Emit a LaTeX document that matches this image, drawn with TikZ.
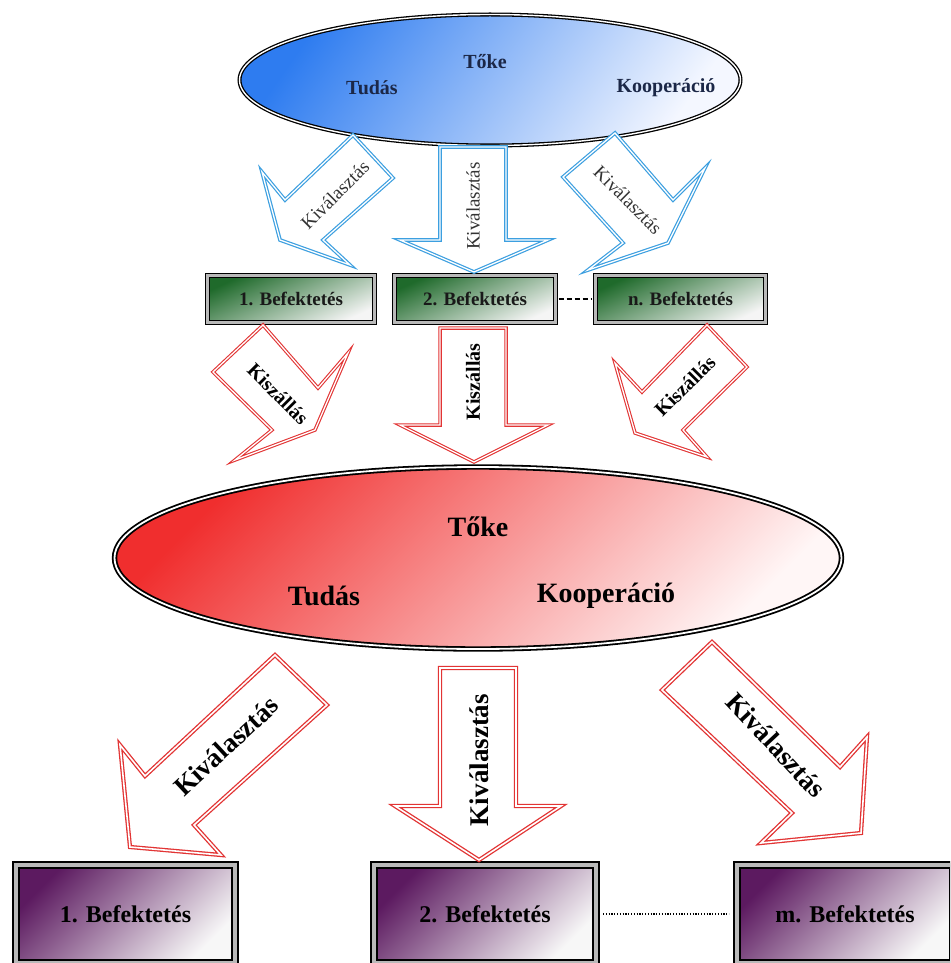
\documentclass[tikz,border=0pt]{standalone}
\usepackage{fontspec}
\setmainfont{Liberation Serif}
\usetikzlibrary{shapes.geometric}
\definecolor{bluearr}{HTML}{3C9FE0}
\definecolor{redarr}{HTML}{E23434}
\definecolor{blueA}{HTML}{2E7CF0}
\definecolor{blueB}{HTML}{F4F7FF}
\definecolor{redA}{HTML}{F02E2E}
\definecolor{redB}{HTML}{FFF6F6}
\definecolor{greenA}{HTML}{1F6A2B}
\definecolor{purpA}{HTML}{5C1A60}
\definecolor{navy}{HTML}{1B2747}
\begin{document}
\begin{tikzpicture}[x=1pt,y=-1pt,
 bluearrow/.style={draw=bluearr,double=white,line width=1.2pt,double distance=1.3pt,fill=white,line join=miter},
 redarrow/.style={draw=redarr,double=white,line width=1.1pt,double distance=1.3pt,fill=white,line join=miter},
 bigredarrow/.style={redarrow,line width=1.3pt,double distance=1.6pt},
 ell/.style={ellipse,inner sep=0pt,draw=black,double=white,line width=1.3pt,double distance=1.4pt},
 gbox/.style={rectangle,inner sep=0pt,draw=black,double=gray!55,line width=1.4pt,double distance=2.6pt,top color=greenA,bottom color=white!92!gray,shading angle=25,text=black!90,font=\fontsize{19}{19}\selectfont\bfseries,minimum height=46.6pt},
 pbox/.style={rectangle,inner sep=0pt,draw=black,double=gray!55,line width=2pt,double distance=4pt,top color=purpA,bottom color=white!94!gray,shading angle=45,text=black,font=\fontsize{24}{24}\selectfont\bfseries,minimum height=98pt},
 topt/.style={inner sep=0pt,text=navy,font=\fontsize{20}{20}\selectfont\bfseries},
 redt/.style={inner sep=0pt,text=black,font=\fontsize{28}{28}\selectfont\bfseries},
 lblblue/.style={inner sep=0pt,text=black!80,font=\fontsize{19}{19}\selectfont},
 lblred/.style={inner sep=0pt,text=black,font=\fontsize{20}{20}\selectfont\bfseries},
 lblbig/.style={inner sep=0pt,text=black,font=\fontsize{27}{27}\selectfont\bfseries}]
\useasboundingbox (0,0) rectangle (950,963);
\clip (0,0) rectangle (950,963);
\fill[white] (0,0) rectangle (950,963);

% ellipses
\node[ell,minimum width=501pt,minimum height=131pt,top color=blueA,bottom color=blueB,shading angle=55] (topell) at (490,80) {};
\node[ell,line width=1.8pt,double distance=1.8pt,minimum width=727pt,minimum height=182pt,top color=redA,bottom color=redB,shading angle=45] (redell) at (478,558) {};

\node[topt] (tt1) at (485,62) {Tőke};
\node[topt] (tt2) at (372,88) {Tudás};
\node[topt] (tt3) at (666,88) {Kooperáció};

\node[redt] (rt1) at (478,527) {Tőke};
\node[redt] (rt2) at (324,596) {Tudás};
\node[redt] (rt3) at (606,596) {Kooperáció};

% green boxes
\node[gbox,minimum width=166.6pt] (g1) at (291,299) {1. Befektetés};
\node[gbox,minimum width=160.6pt] (g2) at (475,299) {2. Befektetés};
\node[gbox,minimum width=169.6pt] (gn) at (680.5,299) {n. Befektetés};
\draw[line width=2.2pt,dash pattern=on 5pt off 3pt,shorten <=2.7pt,shorten >=2.7pt] (g2.east) -- (gn.west);

% purple boxes
\node[pbox,minimum width=219pt] (p1) at (125.5,914) {1. Befektetés};
\node[pbox,minimum width=222pt] (p2) at (485,914) {2. Befektetés};
\node[pbox,minimum width=216pt] (p3) at (845,914) {m. Befektetés};
\draw[line width=1.6pt,dash pattern=on 1.2pt off 1.6pt,shorten <=6pt,shorten >=7pt] (p2.east) -- (p3.west);

% blue arrows
\draw[bluearrow] (353,135) -- (393,178) -- (323,240) -- (350,265) -- (280,240) -- (262,172) -- (285,200) -- cycle;
\draw[bluearrow] (440,147) -- (506,147) -- (506,240) -- (548,240) -- (474,272) -- (400,240) -- (440,240) -- cycle;
\draw[bluearrow] (615,133) -- (673,200) -- (705,168) -- (668,243) -- (588,270) -- (623,243) -- (563,177) -- cycle;

% red small arrows
\draw[redarrow] (263,325) -- (318,388) -- (348,353) -- (315,430) -- (235,460) -- (272,430) -- (213,372) -- cycle;
\draw[redarrow] (440,328) -- (506,328) -- (506,425) -- (548,425) -- (474,462) -- (400,425) -- (440,425) -- cycle;
\draw[redarrow] (707,325) -- (747,367) -- (683,430) -- (707,457) -- (635,433) -- (615,363) -- (642,392) -- cycle;

% big red arrows
\draw[bigredarrow] (275,655) -- (327,705) -- (194,825) -- (221,855) -- (130,847) -- (120,745) -- (145,776) -- cycle;
\draw[bigredarrow] (440,668) -- (516,668) -- (516,806) -- (561,806) -- (479,860) -- (395,806) -- (440,806) -- cycle;
\draw[bigredarrow] (712,642) -- (840,767) -- (867,737) -- (861,833) -- (761,843) -- (792,813) -- (662,690) -- cycle;

% labels
\node[lblblue,rotate=45] (lb1) at (335,195) {Kiválasztás};
\node[lblblue,rotate=90] (lb2) at (473,206) {Kiválasztás};
\node[lblblue,rotate=-45] (lb3) at (628,200) {Kiválasztás};

\node[lblred,rotate=-45] (lr1) at (278,394) {Kiszállás};
\node[lblred,rotate=90] (lr2) at (473,382) {Kiszállás};
\node[lblred,rotate=45] (lr3) at (685,386) {Kiszállás};

\node[lblbig,rotate=43] (lg1) at (226,746) {Kiválasztás};
\node[lblbig,rotate=90] (lg2) at (479,760) {Kiválasztás};
\node[lblbig,rotate=-47] (lg3) at (776,745) {Kiválasztás};
\end{tikzpicture}
\end{document}
